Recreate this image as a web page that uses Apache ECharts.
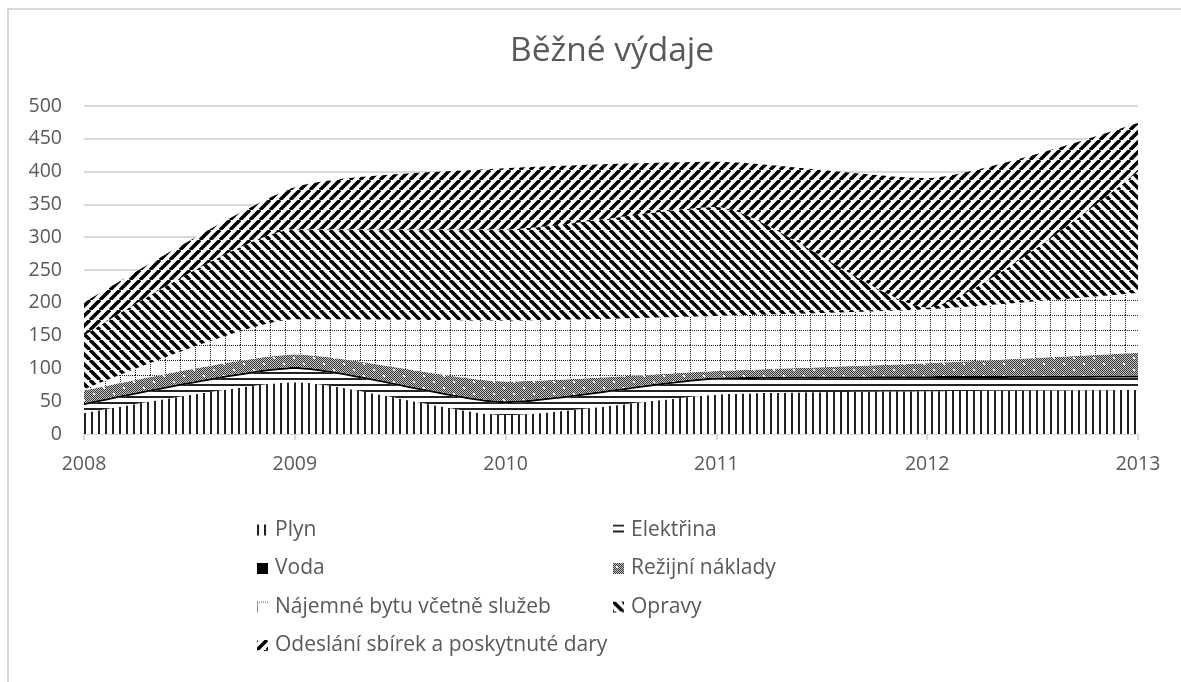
<!DOCTYPE html>
<html>
<head>
<meta charset="utf-8">
<script src="https://cdn.jsdelivr.net/npm/echarts@6/dist/echarts.min.js"></script>
<style>
  html, body { margin: 0; padding: 0; background: #fff; }
  #chart { width: 1181px; height: 682px; }
</style>
</head>
<body>
<div id="chart"></div>
<script>
var years = ['2008', '2009', '2010', '2011', '2012', '2013'];
var seriesNames = ['Plyn', 'Elektřina', 'Voda', 'Režijní náklady', 'Nájemné bytu včetně služeb', 'Opravy', 'Odeslání sbírek a poskytnuté dary'];
var plyn      = [32, 79, 29, 60, 65, 67];
var elektrina = [12, 20, 18, 23, 20, 19];
var voda      = [3, 3, 3, 3, 3, 3];
var rezijni   = [19, 19, 30, 10, 20, 35];
var najemne   = [2, 54, 93, 84, 82, 91];
var opravy    = [82, 137, 139, 166, 3, 185];
var odeslani  = [50, 64, 93, 69, 197, 74];

// small canvas tiles used as fill patterns
function makePattern(w, h, draw) {
    var c = document.createElement('canvas');
    c.width = w;
    c.height = h;
    var ctx = c.getContext('2d');
    ctx.fillStyle = '#fff';
    ctx.fillRect(0, 0, w, h);
    draw(ctx, w, h);
    return {image: c, repeat: 'repeat'};
}

var patVertical = makePattern(7, 7, function(ctx) {
    ctx.fillStyle = '#222';
    ctx.fillRect(0, 0, 2, 7);
});
var patHorizontal = makePattern(6, 6, function(ctx) {
    ctx.fillStyle = '#222';
    ctx.fillRect(0, 0, 6, 2);
});
var patCheck = makePattern(20, 12, function(ctx, w, h) {
    for (var x = 0; x < w; x++) {
        for (var y = 0; y < h; y++) {
            ctx.fillStyle = ((x + y) % 2 === 0) ? '#333' : '#c8c8c8';
            ctx.fillRect(x, y, 1, 1);
        }
    }
    ctx.fillStyle = '#fff';
    ctx.fillRect(3, 3, 2, 2);
    ctx.fillRect(13, 9, 2, 2);
});
var patGrid = makePattern(15, 15, function(ctx) {
    ctx.fillStyle = '#222';
    for (var i = 0; i < 15; i += 2) {
        ctx.fillRect(i, 0, 1, 1);
        ctx.fillRect(0, i, 1, 1);
    }
});
function diag(up) {
    return makePattern(10, 10, function(ctx) {
        ctx.strokeStyle = '#000';
        ctx.lineWidth = 3.6;
        ctx.beginPath();
        [-10, 0, 10].forEach(function(o) {
            if (up) {
                ctx.moveTo(o, 10);
                ctx.lineTo(o + 10, 0);
            } else {
                ctx.moveTo(o, 0);
                ctx.lineTo(o + 10, 10);
            }
        });
        ctx.stroke();
    });
}
var patDown = diag(false);
var patUp = diag(true);

var fills = [patVertical, patHorizontal, '#000', patCheck, patGrid, patDown, patUp];
var values = [plyn, elektrina, voda, rezijni, najemne, opravy, odeslani];

var chart = echarts.init(document.getElementById('chart'));

var series = seriesNames.map(function(name, i) {
    return {
        name: name,
        type: 'line',
        stack: 'total',
        smooth: 0.2,
        showSymbol: false,
        symbol: 'none',
        lineStyle: {width: 0, opacity: 0},
        itemStyle: {color: fills[i]},
        areaStyle: {color: fills[i], opacity: 1},
        emphasis: {disabled: true},
        data: values[i]
    };
});

function legendItems(idx) {
    return idx.map(function(i) {
        return {name: seriesNames[i], itemStyle: {color: fills[i]}};
    });
}

var legendText = {color: '#595959', fontSize: 21, fontFamily: 'Open Sans', lineHeight: 24, padding: [0, 0, 0, 2]};

var option = {
    backgroundColor: '#fff',
    animation: false,
    title: {
        text: 'Běžné výdaje',
        left: 505,
        top: 29,
        textStyle: {color: '#595959', fontSize: 33.5, fontWeight: 'normal', fontFamily: 'Open Sans'}
    },
    graphic: [{
        type: 'rect',
        shape: {x: 8, y: 9, width: 1300, height: 800},
        style: {fill: 'none', stroke: '#d9d9d9', lineWidth: 2},
        silent: true
    }],
    grid: {left: 84, right: 43, top: 106, bottom: 248},
    xAxis: {
        type: 'category',
        boundaryGap: false,
        data: years,
        axisLine: {lineStyle: {color: '#d9d9d9', width: 2}},
        axisTick: {show: true, length: 6, lineStyle: {color: '#d9d9d9', width: 2}},
        axisLabel: {color: '#595959', fontSize: 19.5, fontFamily: 'Open Sans', margin: 20}
    },
    yAxis: {
        type: 'value',
        min: 0,
        max: 500,
        interval: 50,
        axisLine: {show: false},
        axisTick: {show: false},
        axisLabel: {color: '#595959', fontSize: 19.5, fontFamily: 'Open Sans', margin: 22},
        splitLine: {lineStyle: {color: '#d9d9d9', width: 2}}
    },
    legend: [{
        orient: 'vertical',
        left: 252,
        top: 513,
        icon: 'rect',
        itemWidth: 11,
        itemHeight: 11,
        itemGap: 14.5,
        textStyle: legendText,
        data: legendItems([0, 2, 4, 6])
    }, {
        orient: 'vertical',
        left: 608,
        top: 513,
        icon: 'rect',
        itemWidth: 11,
        itemHeight: 11,
        itemGap: 14.5,
        textStyle: legendText,
        data: legendItems([1, 3, 5])
    }],
    series: series
};

chart.setOption(option);
window.onresize = function () {
    chart.resize();
};
</script>
</body>
</html>
